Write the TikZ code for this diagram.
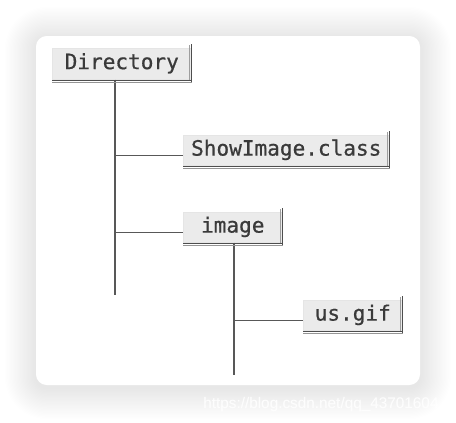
\documentclass[tikz,border=0pt]{standalone}
\usepackage{fontspec}
\newfontfamily\boxfont[FakeBold=0.7]{DejaVu Sans Mono}
\newfontfamily\wmfont{Liberation Sans}
\definecolor{boxfill}{HTML}{EBEBEB}
\definecolor{edgegray}{HTML}{4E4E4E}
\definecolor{linegray}{HTML}{585858}
\definecolor{textgray}{HTML}{3A3A3A}
\def\px{0.75pt}
\tikzset{
  filebox/.style={anchor=north west, fill=boxfill, draw=black!10, line width=0.4pt,
    inner sep=0pt, text height=11pt, text depth=3pt, text=textgray,
    font=\boxfont\fontsize{15.8}{18}\selectfont},
  branch/.style={draw=linegray, line width=1.3pt},
}
\begin{document}
\begin{tikzpicture}[x=0.75pt,y=-0.75pt]
	\useasboundingbox (0,0) rectangle (456,422);
	% card shadow
	\foreach \i in {1,...,24} {
		\fill[black, opacity=0.0045, rounded corners=8+\i] (36-1.3*\i, 38-1.3*\i) rectangle (420+1.3*\i, 388+1.3*\i);
	}
	\fill[white, rounded corners=8] (36,36) rectangle (420,385);
	\node[anchor=base west, inner sep=0pt, text=white, opacity=0.9, font=\wmfont\fontsize{11.5}{13}\selectfont] (wm) at (203,408) {https://blog.csdn.net/qq\_43701604};

	% file boxes
	\node[filebox, minimum width=139*\px, minimum height=31*\px] (dir) at (52,48) {Directory};
	\node[filebox, minimum width=206*\px, minimum height=30*\px] (cls) at (183,135) {ShowImage.class};
	\node[filebox, minimum width=99*\px, minimum height=30*\px] (img) at (183,212) {image};
	\node[filebox, minimum width=99*\px, minimum height=30*\px] (gif) at (303,300) {us.gif};

	% tree lines
	\coordinate (dirend) at (115,295);
	\coordinate (imgend) at (234,375);
	\draw[branch] (dir.south -| dirend) -- (dirend);
	\draw[branch] (dirend |- cls.base west) -- (cls.base west);
	\draw[branch] (dirend |- img.base west) -- (img.base west);
	\draw[branch] (img.south -| imgend) -- (imgend);
	\draw[branch] (imgend |- gif.base west) -- (gif.base west);

	\foreach \n in {dir,cls,img,gif} {
		% raised edges
		\draw[edgegray!55, line width=0.5pt] ([xshift=-1.6pt,yshift=2pt]\n.north east) -- ([xshift=-1.6pt]\n.south east);
		\draw[edgegray, line width=1.2pt] ([yshift=3pt]\n.north east) -- ([yshift=-2pt]\n.south east);
		\draw[edgegray, line width=1.4pt] ([yshift=-0.7pt]\n.south west) -- ([yshift=-0.7pt]\n.south east);
		\draw[edgegray!60, line width=0.7pt] ([yshift=-2pt]\n.south west) -- ([yshift=-2pt]\n.south east);
	}
\end{tikzpicture}
\end{document}
